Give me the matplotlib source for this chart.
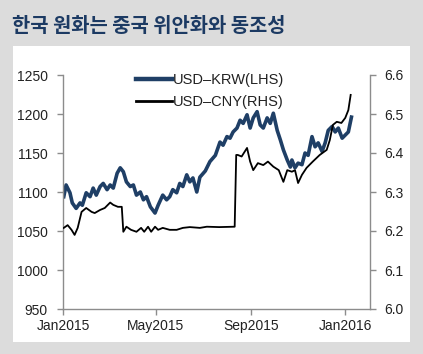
import pandas as pd
import matplotlib.pyplot as plt
import matplotlib.dates as mdates
from matplotlib.patches import Rectangle

# USD-KRW (left axis)
krw_dates = ['2015-01-02', '2015-01-05', '2015-01-10', '2015-01-13', '2015-01-18', '2015-01-23',
             '2015-01-26', '2015-01-31', '2015-02-05', '2015-02-09', '2015-02-13', '2015-02-18',
             '2015-02-22', '2015-02-27', '2015-03-03', '2015-03-07', '2015-03-12', '2015-03-16',
             '2015-03-20', '2015-03-24', '2015-03-29', '2015-04-02', '2015-04-06', '2015-04-11',
             '2015-04-15', '2015-04-19', '2015-04-24', '2015-04-30', '2015-05-04', '2015-05-10',
             '2015-05-15', '2015-05-19', '2015-05-23', '2015-05-28', '2015-06-01', '2015-06-05',
             '2015-06-10', '2015-06-14', '2015-06-18', '2015-06-23', '2015-06-27', '2015-07-04',
             '2015-07-10', '2015-07-17', '2015-07-23', '2015-07-27', '2015-08-01', '2015-08-05',
             '2015-08-09', '2015-08-14', '2015-08-18', '2015-08-22', '2015-08-27', '2015-08-31',
             '2015-09-04', '2015-09-09', '2015-09-13', '2015-09-17', '2015-09-22', '2015-09-26',
             '2015-09-30', '2015-10-05', '2015-10-09', '2015-10-13', '2015-10-18', '2015-10-22',
             '2015-10-24', '2015-10-28', '2015-11-01', '2015-11-06', '2015-11-10', '2015-11-14',
             '2015-11-19', '2015-11-23', '2015-11-27', '2015-12-02', '2015-12-06', '2015-12-10',
             '2015-12-15', '2015-12-19', '2015-12-23', '2015-12-28', '2016-01-01', '2016-01-05',
             '2016-01-09']
krw_values = [1094, 1109, 1099, 1086, 1079, 1086,
              1083, 1099, 1094, 1105, 1096, 1107,
              1111, 1103, 1109, 1105, 1124, 1131,
              1126, 1113, 1107, 1109, 1096, 1100,
              1090, 1094, 1081, 1073, 1083, 1096,
              1090, 1094, 1103, 1099, 1111, 1107,
              1122, 1113, 1118, 1100, 1119, 1127,
              1139, 1147, 1164, 1160, 1171, 1169,
              1177, 1182, 1192, 1188, 1199, 1182,
              1195, 1203, 1186, 1182, 1195, 1188,
              1201, 1179, 1167, 1154, 1141, 1132,
              1141, 1131, 1137, 1135, 1150, 1147,
              1171, 1158, 1163, 1152, 1163, 1179,
              1184, 1177, 1182, 1169, 1173, 1177,
              1196]

# USD-CNY (right axis)
cny_dates = ['2015-01-02', '2015-01-07', '2015-01-12', '2015-01-16', '2015-01-20', '2015-01-25',
             '2015-01-31', '2015-02-07', '2015-02-11', '2015-02-18', '2015-02-24', '2015-03-03',
             '2015-03-07', '2015-03-13', '2015-03-18', '2015-03-20', '2015-03-24', '2015-03-30',
             '2015-04-06', '2015-04-12', '2015-04-16', '2015-04-21', '2015-04-25', '2015-04-30',
             '2015-05-04', '2015-05-10', '2015-05-19', '2015-05-28', '2015-06-05', '2015-06-14',
             '2015-06-27', '2015-07-06', '2015-07-22', '2015-08-11', '2015-08-13', '2015-08-15',
             '2015-08-20', '2015-08-27', '2015-08-31', '2015-09-04', '2015-09-10', '2015-09-17',
             '2015-09-23', '2015-09-30', '2015-10-07', '2015-10-13', '2015-10-18', '2015-10-24',
             '2015-10-28', '2015-11-01', '2015-11-06', '2015-11-12', '2015-11-20', '2015-11-29',
             '2015-12-08', '2015-12-12', '2015-12-16', '2015-12-21', '2015-12-27', '2016-01-01',
             '2016-01-05', '2016-01-07', '2016-01-08']
cny_values = [6.208, 6.215, 6.203, 6.190, 6.208, 6.249,
              6.259, 6.249, 6.246, 6.254, 6.259, 6.273,
              6.267, 6.262, 6.262, 6.198, 6.211, 6.203,
              6.198, 6.208, 6.198, 6.211, 6.198, 6.211,
              6.203, 6.208, 6.203, 6.203, 6.208, 6.210,
              6.208, 6.211, 6.210, 6.211, 6.395, 6.395,
              6.391, 6.413, 6.378, 6.356, 6.374, 6.369,
              6.378, 6.365, 6.356, 6.326, 6.356, 6.352,
              6.356, 6.323, 6.344, 6.362, 6.378, 6.395,
              6.408, 6.433, 6.472, 6.480, 6.477, 6.490,
              6.510, 6.536, 6.549]

krw_color = '#1f3f66'
axis_color = '#8c8c8c'
text_color = '#222222'

plt.rcParams['font.family'] = ['Liberation Sans', 'DejaVu Sans']

fig = plt.figure(figsize=(4.23, 3.54), dpi=100)
fig.patch.set_facecolor('#dcdcdc')

# white panel behind the chart
fig.patches.append(Rectangle((13 / 423, 12 / 354), 397 / 423, 296 / 354,
                             transform=fig.transFigure, facecolor='white',
                             edgecolor='none', zorder=-5))

fig.text(12 / 423, 0.929, '한국 원화는 중국 위안화와 동조성', color='#1c3a63',
         fontsize=14.3, fontweight='bold', va='center', ha='left',
         family=['Noto Sans CJK KR', 'DejaVu Sans'])

ax = fig.add_axes([63 / 423, 45 / 354, 307 / 423, 234 / 354])
ax.set_facecolor('none')
ax2 = ax.twinx()
ax2.set_facecolor('none')

line1, = ax.plot(pd.to_datetime(krw_dates), krw_values, color=krw_color, lw=2.6,
                 label='USD–KRW(LHS)')
line2, = ax2.plot(pd.to_datetime(cny_dates), cny_values, color='black', lw=1.3,
                  label='USD–CNY(RHS)')

ax.set_ylim(950, 1250)
ax.set_yticks([950, 1000, 1050, 1100, 1150, 1200, 1250])
ax2.set_ylim(6.0, 6.6)
ax2.set_yticks([6.0, 6.1, 6.2, 6.3, 6.4, 6.5, 6.6])
ax2.yaxis.set_major_formatter(plt.FormatStrFormatter('%.1f'))

ax.set_xlim(pd.Timestamp('2015-01-01'), pd.Timestamp('2016-02-02'))
ax.set_xticks(pd.to_datetime(['2015-01-01', '2015-05-01', '2015-09-01', '2016-01-01']))
ax.xaxis.set_major_formatter(mdates.DateFormatter('%b%Y'))

for a in (ax, ax2):
    a.spines['top'].set_visible(False)
    for s in a.spines.values():
        s.set_color(axis_color)
        s.set_linewidth(1.0)
    a.tick_params(colors=axis_color, labelcolor=text_color, labelsize=10,
                  length=4, width=1.0, pad=3)
ax.tick_params(axis='y', pad=7)
ax2.tick_params(axis='y', pad=6)
ax.spines['right'].set_visible(False)
ax2.spines['left'].set_visible(False)
ax2.spines['bottom'].set_visible(False)

leg = ax.legend(handles=[line1, line2], loc='upper left', bbox_to_anchor=(0.1935, 1.066),
                frameon=False, fontsize=10.5, handlelength=2.5, handletextpad=0.05,
                labelspacing=0.55, labelcolor=text_color)
leg.get_lines()[0].set_linewidth(3.2)
leg.get_lines()[1].set_linewidth(2.0)

fig.savefig('out.png', dpi=100, facecolor=fig.get_facecolor())
